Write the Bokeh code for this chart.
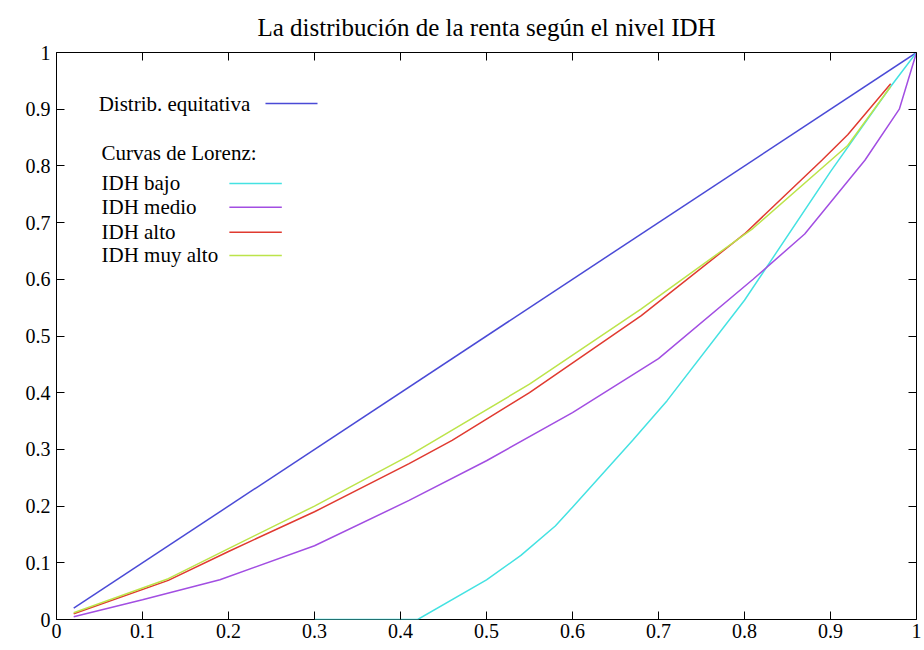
from bokeh.plotting import figure
from bokeh.models import LinearAxis, FixedTicker, Range1d, Label, CustomLabelingPolicy
from bokeh.embed import file_html
from bokeh.resources import INLINE

# ---- data ----
title_text = "La distribución de la renta según el nivel IDH"

x_ticks = [0, 0.1, 0.2, 0.3, 0.4, 0.5, 0.6, 0.7, 0.8, 0.9, 1]
x_tick_labels = ["0", "0.1", "0.2", "0.3", "0.4", "0.5", "0.6", "0.7", "0.8", "0.9", "1"]
y_ticks = [0, 0.1, 0.2, 0.3, 0.4, 0.5, 0.6, 0.7, 0.8, 0.9, 1]
y_tick_labels = ["0", "0.1", "0.2", "0.3", "0.4", "0.5", "0.6", "0.7", "0.8", "0.9", "1"]

equit_x = [0.02, 1.0]
equit_y = [0.02, 1.0]

bajo_x = [0.3, 0.42, 0.5, 0.54, 0.58, 0.6, 0.67, 0.71, 0.8, 0.9, 0.97, 1.0]
bajo_y = [0.0, 0.0, 0.07, 0.113, 0.165, 0.198, 0.316, 0.386, 0.563, 0.79, 0.94, 1.0]

medio_x = [0.02, 0.1, 0.19, 0.3, 0.41, 0.5, 0.6, 0.7, 0.81, 0.87, 0.94, 0.98, 1.0]
medio_y = [0.005, 0.035, 0.07, 0.13, 0.21, 0.28, 0.365, 0.46, 0.6, 0.68, 0.81, 0.9, 1.0]

alto_x = [0.02, 0.13, 0.2, 0.3, 0.41, 0.46, 0.55, 0.68, 0.8, 0.89, 0.92, 0.97]
alto_y = [0.01, 0.069, 0.12, 0.19, 0.275, 0.316, 0.4, 0.536, 0.68, 0.81, 0.855, 0.945]

muyalto_x = [0.02, 0.13, 0.2, 0.3, 0.41, 0.44, 0.55, 0.68, 0.81, 0.92, 0.97]
muyalto_y = [0.012, 0.072, 0.125, 0.2, 0.289, 0.316, 0.415, 0.548, 0.69, 0.836, 0.94]

legend_head = "Distrib. equitativa"
legend_sub = "Curvas de Lorenz:"
series_names = ["IDH bajo", "IDH medio", "IDH alto", "IDH muy alto"]

# ---- styles ----
FONT = "'Liberation Serif'"
FONT_G = "'Liberation Serif', 'Times New Roman', serif"
C_EQ = "#4a4ad6"
C_BAJO = "#44e2e2"
C_MEDIO = "#a24ee2"
C_ALTO = "#e03a30"
C_MUY = "#bce44a"
LW = 1.5

p = figure(width=922, height=646, output_backend="svg", toolbar_location=None,
           x_range=Range1d(0, 1), y_range=Range1d(0, 1),
           x_axis_location=None, y_axis_location=None,
           min_border_left=56, min_border_right=6, min_border_top=52, min_border_bottom=27)
p.background_fill_color = "white"
p.border_fill_color = "white"
p.grid.visible = False
p.outline_line_color = "black"
p.outline_line_width = 1

p.title.text = title_text
p.title.text_font = FONT_G
p.title.text_font_size = "25px"
p.title.text_font_style = "normal"
p.title.text_color = "black"
p.title.align = "center"
p.title.standoff = 16

x_over = {t: l for t, l in zip(x_ticks, x_tick_labels)}
y_over = {t: l for t, l in zip(y_ticks, y_tick_labels)}

hide_all = CustomLabelingPolicy(code="for (const i of indices) { indices.unset(i) }\nreturn indices")


def mk_axis(labels, overrides, ticks, standoff=4, size="20px"):
    ax = LinearAxis(ticker=FixedTicker(ticks=ticks))
    ax.major_tick_in = 8
    ax.major_tick_out = 0
    ax.minor_tick_in = 0
    ax.minor_tick_out = 0
    ax.axis_line_color = None
    ax.major_tick_line_color = "black"
    ax.major_tick_line_width = 1
    if labels:
        ax.major_label_overrides = overrides
        ax.major_label_text_font = FONT_G
        ax.major_label_text_font_size = size
        ax.major_label_text_color = "black"
        ax.major_label_standoff = standoff
    else:
        ax.major_label_policy = hide_all
        ax.major_label_text_font_size = "1px"
        ax.major_label_standoff = 0
    return ax


p.add_layout(mk_axis(True, x_over, x_ticks, 4, "20px"), "below")
p.add_layout(mk_axis(True, y_over, y_ticks, 6, "20px"), "left")
p.add_layout(mk_axis(False, x_over, x_ticks), "above")
p.add_layout(mk_axis(False, y_over, y_ticks), "right")

p.line(equit_x, equit_y, line_color=C_EQ, line_width=LW)
p.line(bajo_x, bajo_y, line_color=C_BAJO, line_width=LW)
p.line(medio_x, medio_y, line_color=C_MEDIO, line_width=LW)
p.line(alto_x, alto_y, line_color=C_ALTO, line_width=LW)
p.line(muyalto_x, muyalto_y, line_color=C_MUY, line_width=LW)

# ---- key (gnuplot style: text left, sample right), positions in data units ----
key_font = "21px"
p.add_layout(Label(x=0.049, y=0.910, text=legend_head, text_font=FONT,
                   text_font_size=key_font, text_baseline="middle", text_color="black"))
p.segment(x0=[0.243], y0=[0.910], x1=[0.3035], y1=[0.910], line_color=C_EQ, line_width=LW)
p.add_layout(Label(x=0.0523, y=0.822, text=legend_sub, text_font=FONT,
                   text_font_size=key_font, text_baseline="middle", text_color="black"))
key_ys = [0.769, 0.727, 0.683, 0.642]
key_cols = [C_BAJO, C_MEDIO, C_ALTO, C_MUY]
for name, ky, kc in zip(series_names, key_ys, key_cols):
    p.add_layout(Label(x=0.0523, y=ky, text=name, text_font=FONT,
                       text_font_size=key_font, text_baseline="middle", text_color="black"))
    p.segment(x0=[0.201], y0=[ky], x1=[0.262], y1=[ky], line_color=kc, line_width=LW)

open("out.html", "w").write(file_html(p, INLINE))
